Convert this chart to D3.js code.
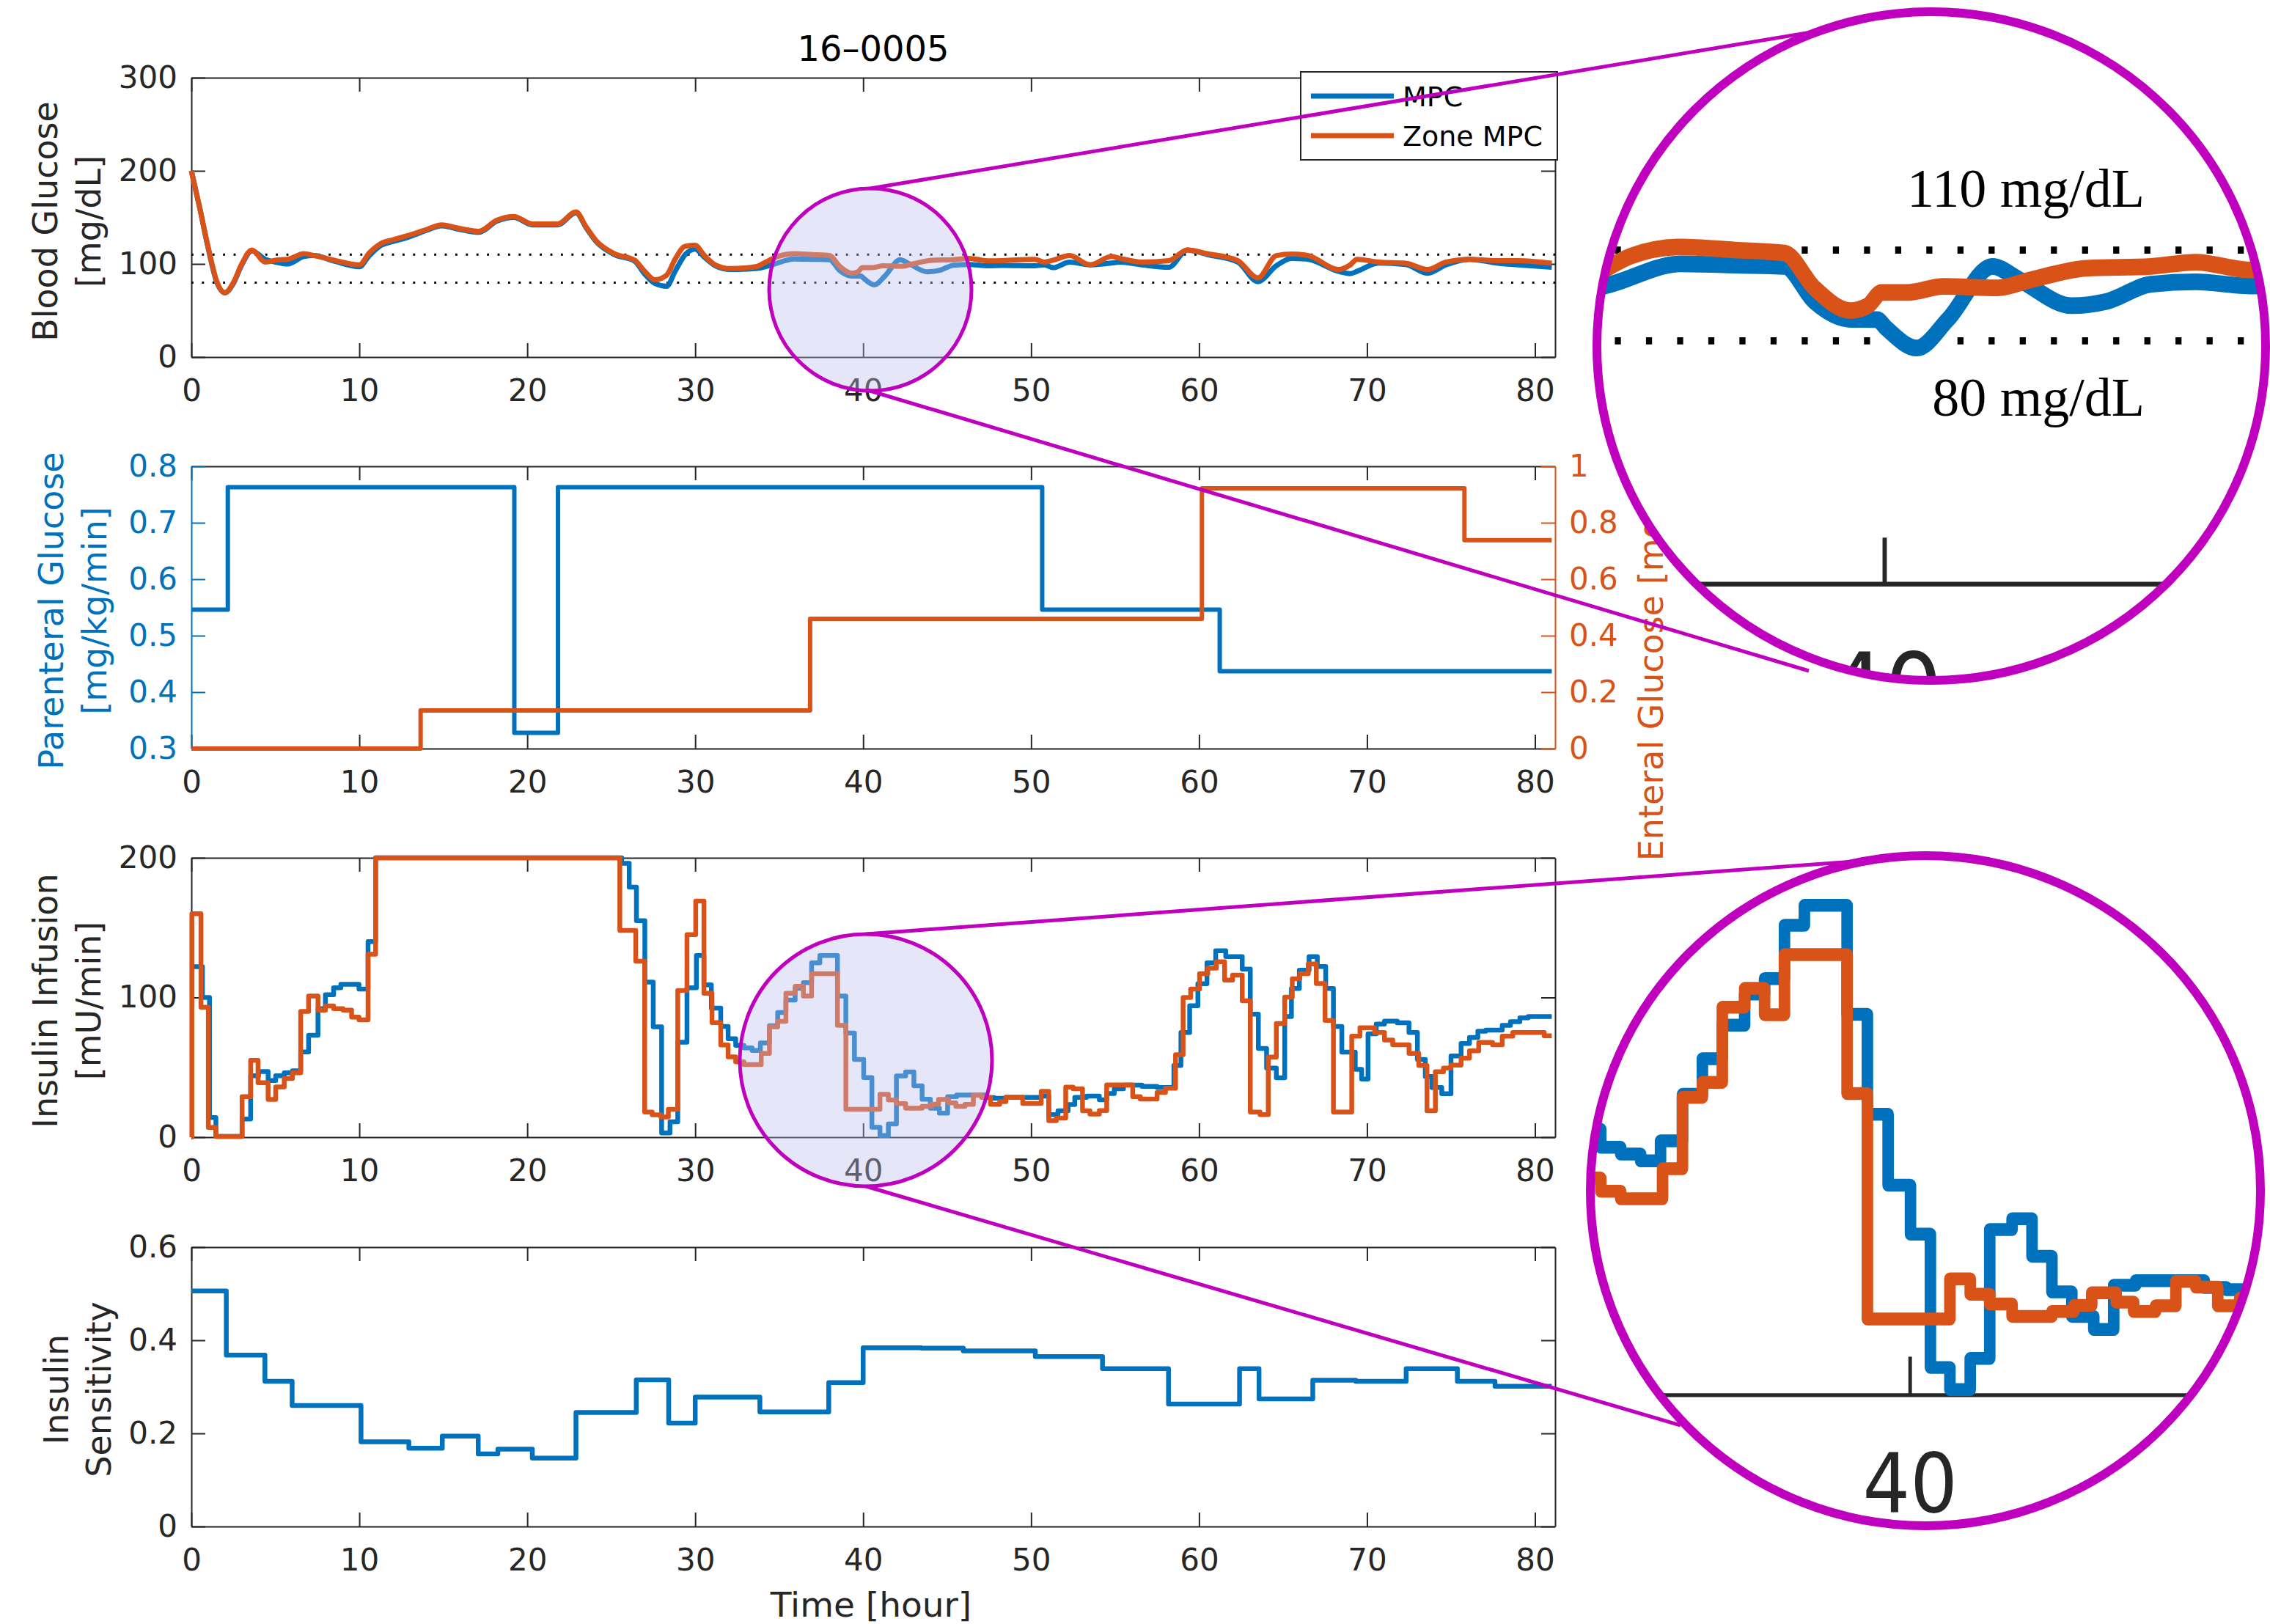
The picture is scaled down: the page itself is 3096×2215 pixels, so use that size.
<!DOCTYPE html>
<html>
<head>
<meta charset="utf-8">
<script src="https://cdn.jsdelivr.net/npm/d3@7"></script>
<style>
  html, body { margin: 0; padding: 0; background: #fff; }
  svg { display: block; }
</style>
</head>
<body>
<svg id="fig" width="3096" height="2215"></svg>
<script>
// ---------------- data ----------------
const timeTicks = [0, 10, 20, 30, 40, 50, 60, 70, 80];
const targetBand = [80, 110];            // mg/dL

// blood glucose [hour, mg/dL]
const bgMPC = [[0,200],[0.5,160],[1.0,117],[1.5,81],[2.0,69],[2.5,79],[3.0,99],[3.6,114],[4.4,105],[5.0,102],[5.75,100],[6.7,108],[7.3,109],[8.5,103],[10.0,97],[10.6,109],[11.3,120],[12.0,124],[12.8,128],[14.0,136],[14.9,141],[16.0,137],[17.1,134],[18.2,146],[19.2,150],[20.3,142],[21.8,142],[22.9,155],[23.5,139],[24.1,124],[25.2,110],[26.4,103],[27.0,89],[27.6,79],[28.3,76],[28.8,92],[29.4,110],[30.0,116],[30.5,108],[31.2,98],[32.1,94],[33.6,95],[34.5,98.7],[35.9,105.4],[37.0,105],[38.0,104.6],[38.6,93],[39.33,87.1],[39.87,87],[40.05,84.2],[40.67,77.6],[41.3,87.1],[42.2,104.6],[42.73,100.3],[43.8,91.6],[44.5,93],[45.4,98.7],[46.3,99.5],[47.4,98.1],[48.3,98.5],[50.2,98],[50.8,99],[51.3,96],[52.3,102],[53.5,99],[54.8,101],[55.3,102],[56.6,99],[58.2,96.5],[59.3,115],[60.5,110],[62.3,102],[63.5,81],[64.6,98],[65.5,106],[66.5,105],[68.3,92],[69.0,89.6],[69.4,92],[70.7,101],[72.3,99.4],[73.6,90],[74.7,99],[76.1,105],[77.7,101],[79.0,99],[81.0,96.4]];
const bgZone = [[0,200],[0.5,160],[1.0,118],[1.5,82],[2.0,69],[2.5,80],[3.0,100],[3.6,115],[4.4,102],[5.0,104],[5.75,105],[6.7,111],[7.3,109],[8.5,104],[10.0,99],[10.6,112],[11.3,122],[12.0,126],[12.8,130],[14.0,137],[14.9,142],[16.0,138],[17.1,135],[18.2,147],[19.2,151],[20.3,143],[21.8,143],[22.9,156],[23.5,140],[24.1,125],[25.2,111],[26.4,104],[27.0,92],[27.6,83],[28.3,88],[28.8,105],[29.4,119],[30.0,120],[30.5,110],[31.2,99],[32.1,95],[33.6,97],[34.2,102],[34.9,108],[35.9,111],[37.0,110],[38.0,109],[38.6,97.5],[39.33,90],[39.69,91.7],[39.96,96],[40.5,96],[41.2,98],[42.3,97.5],[43.0,100.3],[44.1,104],[45.4,104.6],[46.3,106],[47.4,103.4],[48.3,103.6],[50.2,105],[50.8,102],[51.3,104],[52.3,109],[53.5,99],[54.8,108],[55.3,106],[56.6,102],[58.2,103.6],[59.3,115],[60.5,111],[62.3,103.6],[63.5,85],[64.6,109],[65.5,110.7],[66.5,109],[68.3,94],[69.0,99],[69.4,105],[70.7,102],[72.3,100.8],[73.6,94],[74.7,102],[76.1,105],[77.7,103.6],[79.0,103.6],[81.0,100.8]];

// glucose feeds, step changes [hour, mg/kg/min]
const parenteralGlucose = [[0,0.546],[2.17,0.763],[19.23,0.328],[21.83,0.763],[50.66,0.546],[61.23,0.437],[81.0,0.437]];
const enteralGlucose = [[0,0],[13.65,0.135],[36.84,0.46],[60.17,0.922],[75.8,0.738],[81.0,0.738]];

// insulin infusion, step changes [hour, mU/min]
const insulinMPC = [[0,122],[0.66,100],[1.08,14],[1.46,0.5],[3.02,13],[3.53,44],[4.0,47],[4.57,40.6],[5.02,44],[5.53,46],[6.02,47.5],[6.51,61],[6.98,73],[7.54,92],[7.98,102],[8.47,107],[8.9,109.5],[9.98,106],[10.52,140],[10.97,200],[25.62,196],[26.07,179],[26.5,155],[27.0,111],[27.5,79],[28.0,3],[28.5,11],[28.96,68],[29.51,107],[30.07,130],[30.52,109],[30.96,92.4],[31.52,79.3],[31.96,70.5],[32.41,65.7],[32.9,63.9],[33.39,62.1],[33.88,67.4],[34.42,79.8],[34.91,89.3],[35.4,98.2],[35.95,106.5],[36.44,110.6],[36.93,124.8],[37.42,130.1],[38.47,101.1],[38.97,74.5],[39.48,55.6],[40.03,42.6],[40.52,7.1],[41.0,1.2],[41.5,9.5],[41.98,43.8],[42.53,46.7],[43.02,36.7],[43.51,27.2],[44.0,20.7],[44.54,17.2],[45.03,29],[45.57,30.2],[47.26,28.4],[47.8,27.8],[48.5,28.5],[50.6,29.4],[51.05,16.2],[51.6,18.9],[52.2,23.3],[52.6,28.5],[53.3,29.4],[54.06,26.8],[54.5,31.2],[54.95,34.6],[55.5,37.3],[56.6,36.4],[57.5,35.5],[58.5,51.3],[58.92,74.9],[59.44,94.1],[59.93,109.9],[60.47,124.8],[60.99,133.5],[61.59,129.2],[62.57,120.4],[63.05,88],[63.53,63.5],[64.02,49.5],[64.6,42.5],[65.1,86.3],[65.5,106.4],[65.97,119.5],[66.55,129.2],[67.04,122.2],[67.54,106.4],[68.0,79.3],[68.5,60.9],[69.3,48.6],[69.68,41.6],[70.06,74],[70.55,81],[71.04,83.1],[71.8,81.9],[72.5,74.9],[73.0,55.6],[73.47,43.4],[73.86,35.5],[74.45,31.1],[75.0,58.2],[75.6,67],[76.1,71.4],[76.6,75.8],[77.07,76.6],[78.05,80.1],[78.54,82.7],[79.1,85.4],[79.6,86.3],[81.0,86.3]];
const insulinZone = [[0,0],[0.03,160],[0.57,93],[1.01,7],[1.46,0.5],[3.02,29],[3.53,55],[3.97,39],[4.57,27],[5.02,36],[5.53,42],[6.02,46],[6.51,90],[6.98,101],[7.54,91],[7.98,94],[8.47,92],[9.03,91],[9.54,86],[9.98,84],[10.52,131],[10.97,200],[25.51,148],[26.46,126],[26.99,18],[27.44,16],[27.95,14.5],[28.4,20],[28.96,105],[29.51,145],[30.03,169],[30.52,103],[31.0,82],[31.52,66],[31.96,57.5],[32.41,54],[32.9,52],[33.93,60],[34.42,79],[34.91,83],[35.4,103],[35.95,108],[36.44,101],[36.93,117],[38.47,80],[38.97,20],[41.0,30.7],[41.5,26.6],[41.98,24],[42.53,20.7],[43.51,22],[44.05,23.6],[44.49,27],[45.09,24.5],[45.52,22],[46.06,23.5],[46.56,30],[47.05,28.5],[47.59,23.5],[48.13,25.5],[48.5,28.6],[49.5,24.1],[50.6,32.8],[51.05,11.8],[51.5,13.6],[52.06,35.8],[52.5,34.6],[53.06,18.9],[53.5,16.5],[54.06,19],[54.5,37.4],[56.05,29],[56.5,27.3],[57.5,32],[58.0,35],[58.6,59],[59.05,100],[59.5,106],[60.03,117],[60.52,121],[61.03,125.6],[61.52,112.5],[62.0,116],[62.57,97.6],[63.05,18],[63.63,16.2],[64.12,57.4],[64.6,81.4],[65.1,100.2],[65.55,113.4],[66.0,117],[66.5,124],[66.98,110],[67.5,83.6],[68.0,18],[69.09,72.3],[69.58,78.4],[70.45,74.9],[71.04,69.6],[71.53,66.1],[72.5,60],[73.08,51.3],[73.57,18.9],[74.07,46.9],[74.55,49.5],[75.0,51.6],[75.6,56.5],[76.1,61.8],[76.65,67.9],[77.47,66.1],[78.05,72.3],[78.68,74.9],[80.55,72.6],[81.0,72.6]];

// insulin sensitivity, step changes
const insulinSensitivity = [[0,0.506],[2.08,0.368],[4.38,0.312],[6.0,0.26],[10.1,0.182],[12.95,0.168],[14.94,0.194],[17.08,0.156],[18.25,0.166],[20.3,0.147],[22.9,0.245],[26.49,0.315],[28.42,0.222],[30.0,0.278],[33.85,0.246],[37.95,0.309],[40.0,0.384],[43.46,0.383],[45.96,0.377],[50.25,0.365],[54.25,0.339],[58.18,0.263],[62.41,0.339],[63.57,0.274],[66.77,0.314],[69.33,0.312],[72.33,0.339],[75.38,0.312],[77.62,0.301],[81.0,0.301]];

const bgTicks = [0, 100, 200, 300];
const pgTicks = [0.3, 0.4, 0.5, 0.6, 0.7, 0.8];
const egTicks = [0, 0.2, 0.4, 0.6, 0.8, 1];
const insTicks = [0, 100, 200];
const siTicks = [0, 0.2, 0.4, 0.6];

// ---------------- layout & style ----------------
const W = 3096, H = 2215;
const L = 261, R = 2121;
const AX = "#262626", BLUE = "#0072BD", ORANGE = "#D95319", MAG = "#BF00BF";
const FONT = "'DejaVu Sans', sans-serif";
const TICK_FS = 42, LABEL_FS = 46;

const x = d3.scaleLinear().domain([0, 81.2]).range([L, R]);
const yBG = d3.scaleLinear().domain([0, 300]).range([487, 106]);
const yPG = d3.scaleLinear().domain([0.3, 0.8]).range([1021, 636]);
const yEG = d3.scaleLinear().domain([0, 1]).range([1021, 636]);
const yIns = d3.scaleLinear().domain([0, 200]).range([1551, 1170]);
const ySI = d3.scaleLinear().domain([0, 0.6]).range([2082, 1701]);

const svg = d3.select("#fig");
svg.append("rect").attr("width", W).attr("height", H).attr("fill", "#fff");

function styleAxis(sel, color) {
  sel.attr("font-family", FONT).attr("font-size", TICK_FS);
  sel.selectAll("path,line").attr("stroke", color).attr("stroke-width", 2);
  sel.selectAll("text").attr("fill", color);
}

// box with inward ticks on all four sides
function frame(g, yL, leftTicks, leftFmt, opt = {}) {
  const bot = yL.range()[0], top = yL.range()[1];
  g.append("g").attr("transform", `translate(0,${bot})`)
    .call(d3.axisBottom(x).tickValues(timeTicks).tickSize(-19).tickSizeOuter(0).tickPadding(30))
    .call(s => styleAxis(s, AX));
  g.append("g").attr("transform", `translate(0,${top})`)
    .call(d3.axisTop(x).tickValues(timeTicks).tickSize(-19).tickSizeOuter(0).tickFormat(""))
    .call(s => styleAxis(s, AX));
  g.append("g").attr("transform", `translate(${L},0)`)
    .call(d3.axisLeft(yL).tickValues(leftTicks).tickFormat(leftFmt).tickSize(-19).tickSizeOuter(0).tickPadding(19))
    .call(s => styleAxis(s, opt.leftColor || AX));
  if (opt.right) {
    g.append("g").attr("transform", `translate(${R},0)`)
      .call(d3.axisRight(opt.right.scale).tickValues(opt.right.ticks).tickFormat(opt.right.fmt).tickSize(-19).tickSizeOuter(0).tickPadding(19))
      .call(s => styleAxis(s, opt.right.color));
  } else {
    g.append("g").attr("transform", `translate(${R},0)`)
      .call(d3.axisRight(yL).tickValues(leftTicks).tickFormat("").tickSize(-19).tickSizeOuter(0))
      .call(s => styleAxis(s, AX));
  }
}

const smooth = yS => d3.line().x(d => x(d[0])).y(d => yS(d[1])).curve(d3.curveMonotoneX);
const stairs = yS => d3.line().x(d => x(d[0])).y(d => yS(d[1])).curve(d3.curveStepAfter);

function series(g, data, gen, color, w) {
  g.append("path").datum(data).attr("d", gen).attr("fill", "none")
    .attr("stroke", color).attr("stroke-width", w)
    .attr("stroke-linejoin", "round").attr("stroke-linecap", "butt");
}

// ---- panel drawers (reused for the magnified views) ----
function drawGlucose(g) {
  frame(g, yBG, bgTicks, d3.format("d"));
  targetBand.forEach(v => {
    g.append("line").attr("x1", L).attr("x2", R).attr("y1", yBG(v)).attr("y2", yBG(v))
      .attr("stroke", "#000").attr("stroke-width", 3).attr("stroke-dasharray", "2.8,11.6");
  });
  series(g, bgMPC, smooth(yBG), BLUE, 7);
  series(g, bgZone, smooth(yBG), ORANGE, 7);
}
function drawFeeds(g) {
  frame(g, yPG, pgTicks, d3.format(".1f"), {
    leftColor: BLUE,
    right: { scale: yEG, ticks: egTicks, fmt: d3.format("~g"), color: ORANGE }
  });
  series(g, parenteralGlucose, stairs(yPG), BLUE, 6);
  series(g, enteralGlucose, stairs(yEG), ORANGE, 6);
}
function drawInsulin(g) {
  frame(g, yIns, insTicks, d3.format("d"));
  series(g, insulinMPC, stairs(yIns), BLUE, 6.5);
  series(g, insulinZone, stairs(yIns), ORANGE, 6.5);
}
function drawSensitivity(g) {
  frame(g, ySI, siTicks, d3.format("~g"));
  series(g, insulinSensitivity, stairs(ySI), BLUE, 6.5);
}

drawGlucose(svg.append("g"));
drawFeeds(svg.append("g"));
drawInsulin(svg.append("g"));
drawSensitivity(svg.append("g"));

// ---- titles and axis labels ----
function ylabel(lines, baselines, cy, color) {
  lines.forEach((t, i) => {
    svg.append("text").attr("transform", `translate(${baselines[i]},${cy}) rotate(-90)`)
      .attr("text-anchor", "middle").attr("font-family", FONT).attr("font-size", LABEL_FS)
      .attr("fill", color).text(t);
  });
}
svg.append("text").attr("x", (L + R) / 2).attr("y", 83).attr("text-anchor", "middle")
  .attr("font-family", FONT).attr("font-size", 48).attr("fill", "#000").text("16–0005");
ylabel(["Blood Glucose", "[mg/dL]"], [78, 137], 302, AX);
ylabel(["Parenteral Glucose", "[mg/kg/min]"], [86, 145], 833, BLUE);
ylabel(["Insulin Infusion", "[mU/min]"], [78, 137], 1365, AX);
ylabel(["Insulin", "Sensitivity"], [93, 151], 1895, AX);
svg.append("text").attr("transform", `translate(2268,844) rotate(-90)`)
  .attr("text-anchor", "middle").attr("font-family", FONT).attr("font-size", LABEL_FS)
  .attr("fill", ORANGE).text("Enteral Glucose [mg/kg/min]");
svg.append("text").attr("x", 1188).attr("y", 2205).attr("text-anchor", "middle")
  .attr("font-family", FONT).attr("font-size", 47).attr("fill", AX).text("Time [hour]");

// ---- legend ----
const leg = svg.append("g");
leg.append("rect").attr("x", 1774).attr("y", 98).attr("width", 350).attr("height", 120)
  .attr("fill", "#fff").attr("stroke", AX).attr("stroke-width", 2);
[["MPC", BLUE, 131], ["Zone MPC", ORANGE, 185]].forEach(([name, c, yy]) => {
  leg.append("line").attr("x1", 1788).attr("x2", 1901).attr("y1", yy).attr("y2", yy)
    .attr("stroke", c).attr("stroke-width", 7);
  leg.append("text").attr("x", 1913).attr("y", yy + 14).attr("font-family", FONT)
    .attr("font-size", 38).attr("fill", "#000").text(name);
});

// ---- highlighted regions ----
const spotA = { cx: 1187, cy: 395, r: 138 };
const spotB = { cx: 1181, cy: 1446, r: 172 };
[spotA, spotB].forEach(s => {
  svg.append("circle").attr("cx", s.cx).attr("cy", s.cy).attr("r", s.r)
    .attr("fill", "rgb(190,190,240)").attr("fill-opacity", 0.38)
    .attr("stroke", MAG).attr("stroke-width", 5);
});

// connector lines to the magnified views
[[1187, 257, 2464, 45], [1183, 532, 2467, 915], [1181, 1274, 2528, 1175], [1181, 1618, 2292, 1944]]
  .forEach(([x1, y1, x2, y2]) => {
    svg.append("line").attr("x1", x1).attr("y1", y1).attr("x2", x2).attr("y2", y2)
      .attr("stroke", MAG).attr("stroke-width", 5);
  });

// ---- magnified views ----
function magnifier(id, c, focus, k, draw) {
  svg.append("clipPath").attr("id", id).append("circle")
    .attr("cx", c.cx).attr("cy", c.cy).attr("r", c.r);
  svg.append("circle").attr("cx", c.cx).attr("cy", c.cy).attr("r", c.r).attr("fill", "#fff");
  const inner = svg.append("g").attr("clip-path", `url(#${id})`).append("g")
    .attr("transform", `translate(${focus.X},${focus.Y}) scale(${k[0]},${k[1]}) translate(${-focus.x},${-focus.y})`);
  draw(inner);
  svg.append("circle").attr("cx", c.cx).attr("cy", c.cy).attr("r", c.r)
    .attr("fill", "none").attr("stroke", MAG).attr("stroke-width", 12);
}
magnifier("lensA", { cx: 2634, cy: 472, r: 456 },
  { x: x(40), y: yBG(110), X: 2569, Y: 341 }, [2.95, 3.25], drawGlucose);
magnifier("lensB", { cx: 2626, cy: 1624, r: 457 },
  { x: x(40), y: yIns(0), X: 2604, Y: 1901.5 }, [2.42, 2.69], drawInsulin);

const serif = "'Liberation Serif', 'Times New Roman', serif";
svg.append("text").attr("x", 2925).attr("y", 282).attr("text-anchor", "end")
  .attr("font-family", serif).attr("font-size", 74).attr("fill", "#000").text(targetBand[1] + " mg/dL");
svg.append("text").attr("x", 2925).attr("y", 567).attr("text-anchor", "end")
  .attr("font-family", serif).attr("font-size", 74).attr("fill", "#000").text(targetBand[0] + " mg/dL");
</script>
</body>
</html>
